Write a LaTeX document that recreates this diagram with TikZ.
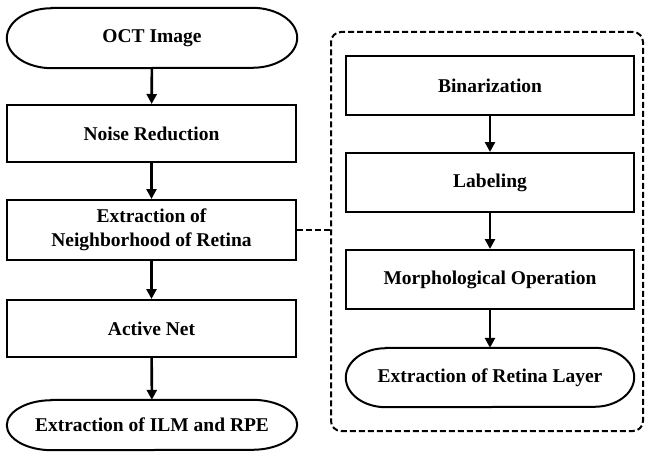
\documentclass[tikz,border=0pt]{standalone}
\usepackage{fontspec}
\setmainfont{Liberation Serif}
\usetikzlibrary{arrows.meta}
\tikzset{
  txt/.style={align=center, inner sep=0pt,
    font=\bfseries\fontsize{19.5}{24}\selectfont},
  box/.style={txt, draw, line width=2pt, rectangle},
  term/.style={txt},
  arr/.style={line width=2.6pt, -{Triangle[length=10pt,width=10pt]}},
  dsh/.style={line width=2pt, dash pattern=on 6pt off 3pt},
  outl/.style={line width=2pt},
}
\newcommand{\stadium}[3]{% node name, horizontal radius, half height
  \draw[outl] ([xshift=#2]#1.north west) -- ([xshift=-#2]#1.north east)
    arc[start angle=90, end angle=-90, x radius=#2, y radius=#3]
    -- ([xshift=#2]#1.south west)
    arc[start angle=270, end angle=90, x radius=#2, y radius=#3] -- cycle;}
\begin{document}
\begin{tikzpicture}[x=1pt,y=-1pt]
\useasboundingbox (0,0) rectangle (645,452);
% left column
\node[term, minimum width=290pt, minimum height=60pt] (oct) at (152,38) {OCT Image};
\node[box, minimum width=289pt, minimum height=57pt] (noise) at (151.5,133.5) {Noise Reduction};
\node[box, minimum width=289pt, minimum height=60pt] (ext) at (151.5,230) {Extraction of\\Neighborhood of Retina};
\node[box, minimum width=289pt, minimum height=57pt] (active) at (151.5,328.5) {Active Net};
\node[term, minimum width=290pt, minimum height=50pt] (ilm) at (152,425) {Extraction of ILM and RPE};
% right container
\node[draw, dsh, rectangle, rounded corners=10pt, minimum width=312pt, minimum height=399pt] (cont) at (487,231.5) {};
\node[box, minimum width=288pt, minimum height=59pt] (bin) at (490,85.5) {Binarization};
\node[box, minimum width=288pt, minimum height=59pt] (lab) at (490,182.5) {Labeling};
\node[box, minimum width=288pt, minimum height=59pt] (morph) at (490,279.5) {Morphological Operation};
\node[term, minimum width=288pt, minimum height=59pt] (ret) at (490,377.5) {Extraction of Retina Layer};
\stadium{oct}{45pt}{30pt}
\stadium{ilm}{45pt}{25pt}
\stadium{ret}{40pt}{29.5pt}
% arrows
\draw[arr] (oct) -- (noise);
\draw[arr] (noise) -- (ext);
\draw[arr] (ext) -- (active);
\draw[arr] (active) -- (ilm);
\draw[arr] (bin) -- (lab);
\draw[arr] (lab) -- (morph);
\draw[arr] (morph) -- (ret);
\draw[dsh] (ext.east) -- (ext.east -| cont.west);
\end{tikzpicture}
\end{document}
